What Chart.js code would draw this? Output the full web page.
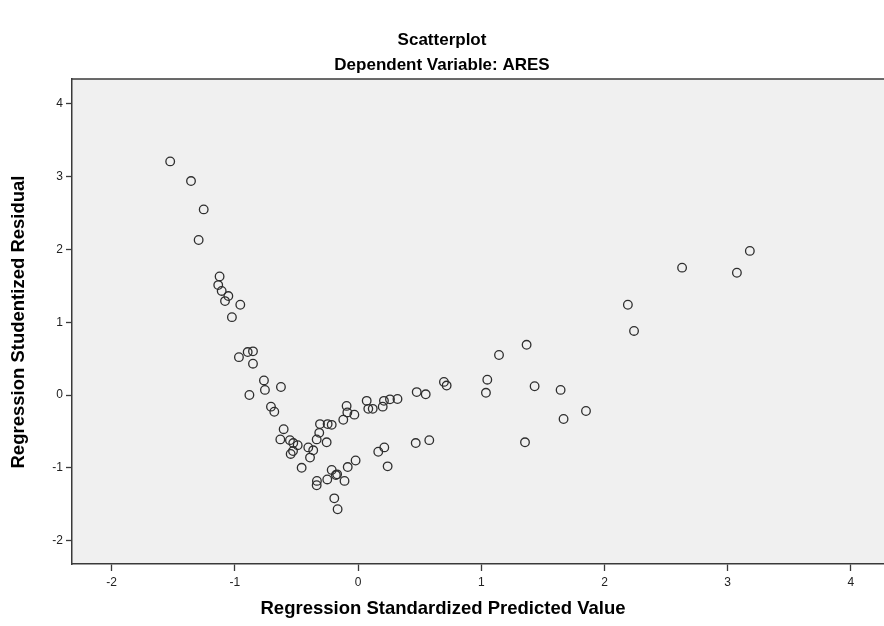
<!DOCTYPE html>
<html>
<head>
<meta charset="utf-8">
<script src="https://cdn.jsdelivr.net/npm/chart.js@4.4.1/dist/chart.umd.min.js"></script>
<style>
  html, body { margin: 0; padding: 0; background: #ffffff; }
  #wrap { width: 884px; height: 626px; position: relative; }
</style>
</head>
<body>
<div id="wrap"><canvas id="c" width="884" height="626"></canvas></div>
<script>
// Regression Standardized Predicted Value (x)
const predicted = [
  -1.525, -1.356, -1.253, -1.294, -1.124, -1.135, -1.107, -1.053, -1.080, -0.956,
  -1.024, -0.967, -0.896, -0.853, -0.853, -0.764, -0.626, -0.756, -0.882, -0.707,
  -0.680, -0.604, -0.631, -0.553, -0.526, -0.490, -0.547, -0.528, -0.458, -0.404,
  -0.364, -0.390, -0.336, -0.315, -0.309, -0.255, -0.247, -0.214, -0.120, -0.093,
  -0.087, -0.030, 0.070, 0.083, 0.119, 0.200, 0.210, 0.259, 0.320, 0.164,
  0.213, 0.240, -0.020, -0.084, -0.214, -0.180, -0.170, -0.334, -0.336, -0.250,
  -0.110, -0.193, -0.166, 0.476, 0.549, 0.468, 0.578, 0.697, 0.719, 1.049,
  1.038, 1.144, 1.368, 1.433, 1.644, 1.850, 1.668, 1.355, 2.190, 2.240,
  2.630, 3.075, 3.180
];
// Regression Studentized Residual (y)
const residual = [
  3.21, 2.94, 2.55, 2.13, 1.63, 1.51, 1.43, 1.36, 1.29, 1.24,
  1.07, 0.52, 0.59, 0.60, 0.43, 0.20, 0.11, 0.07, 0.00, -0.16,
  -0.23, -0.47, -0.61, -0.62, -0.66, -0.69, -0.81, -0.77, -1.00, -0.72,
  -0.76, -0.86, -0.61, -0.52, -0.40, -0.65, -0.40, -0.41, -0.34, -0.15,
  -0.24, -0.27, -0.08, -0.19, -0.19, -0.16, -0.08, -0.06, -0.055, -0.78,
  -0.72, -0.98, -0.90, -0.99, -1.03, -1.10, -1.09, -1.18, -1.24, -1.16,
  -1.18, -1.42, -1.57, 0.04, 0.01, -0.66, -0.62, 0.18, 0.13, 0.21,
  0.03, 0.55, 0.69, 0.12, 0.07, -0.22, -0.33, -0.65, 1.24, 0.88,
  1.75, 1.68, 1.98
];
const xTicks = [-2, -1, 0, 1, 2, 3, 4];
const yTicks = [-2, -1, 0, 1, 2, 3, 4];
const titleText = "Scatterplot";
const subtitleText = "Dependent Variable: ARES";
const xTitle = "Regression Standardized Predicted Value";
const yTitle = "Regression Studentized Residual";

const points = predicted.map((x, i) => ({ x: x, y: residual[i] }));

const FONT = "'Liberation Sans', Arial, sans-serif";

const framePlugin = {
  id: 'frame',
  beforeDraw(chart) {
    const { ctx, chartArea: a } = chart;
    ctx.save();
    ctx.fillStyle = '#f0f0f0';
    ctx.fillRect(a.left, a.top, a.right - a.left, a.bottom - a.top);
    ctx.restore();
  },
  afterDraw(chart) {
    const { ctx, chartArea: a } = chart;
    ctx.save();
    ctx.strokeStyle = '#3a3a3a';
    ctx.lineWidth = 1.5;
    ctx.beginPath();
    ctx.moveTo(a.left, a.top);
    ctx.lineTo(a.right, a.top);
    ctx.stroke();
    // titles
    ctx.fillStyle = '#000';
    ctx.textAlign = 'center';
    ctx.textBaseline = 'middle';
    ctx.font = "bold 17px " + FONT;
    ctx.fillText(titleText, 442, 40);
    ctx.fillText(subtitleText, 442, 65);
    ctx.font = "bold 18.5px " + FONT;
    ctx.fillText(xTitle, 443, 609);
    ctx.translate(19, 322);
    ctx.rotate(-Math.PI / 2);
    ctx.fillText(yTitle, 0, 0);
    ctx.restore();
  }
};

new Chart(document.getElementById('c'), {
  type: 'scatter',
  data: {
    datasets: [{
      data: points,
      pointStyle: 'circle',
      pointRadius: 4.3,
      pointHoverRadius: 4.3,
      borderColor: '#2e2e2e',
      borderWidth: 1.3,
      backgroundColor: 'rgba(0,0,0,0)'
    }]
  },
  options: {
    responsive: false,
    animation: false,
    events: [],
    layout: { autoPadding: false, padding: { top: 79, right: 0, left: 0, bottom: 0 } },
    plugins: {
      legend: { display: false },
      title: { display: false },
      tooltip: { enabled: false }
    },
    scales: {
      x: {
        type: 'linear',
        min: -2.322,
        max: 4.269,
        afterFit(scale) { scale.height = 62; scale.paddingLeft = 0; scale.paddingRight = 0; },
        afterBuildTicks(scale) { scale.ticks = xTicks.map(v => ({ value: v })); },
        grid: { drawOnChartArea: false, drawTicks: true, tickLength: 7, color: '#3a3a3a', tickWidth: 1.3 },
        border: { display: true, color: '#3a3a3a', width: 1.5 },
        ticks: { color: '#222', padding: 4, font: { family: FONT, size: 12 }, maxRotation: 0 }
      },
      y: {
        type: 'linear',
        min: -2.322,
        max: 4.342,
        afterFit(scale) { scale.width = 72; scale.paddingTop = 0; scale.paddingBottom = 0; },
        afterBuildTicks(scale) { scale.ticks = yTicks.map(v => ({ value: v })); },
        grid: { drawOnChartArea: false, drawTicks: true, tickLength: 6, color: '#3a3a3a', tickWidth: 1.3 },
        border: { display: true, color: '#3a3a3a', width: 1.5 },
        ticks: { color: '#222', padding: 3, font: { family: FONT, size: 12 } }
      }
    }
  },
  plugins: [framePlugin]
});
</script>
</body>
</html>
